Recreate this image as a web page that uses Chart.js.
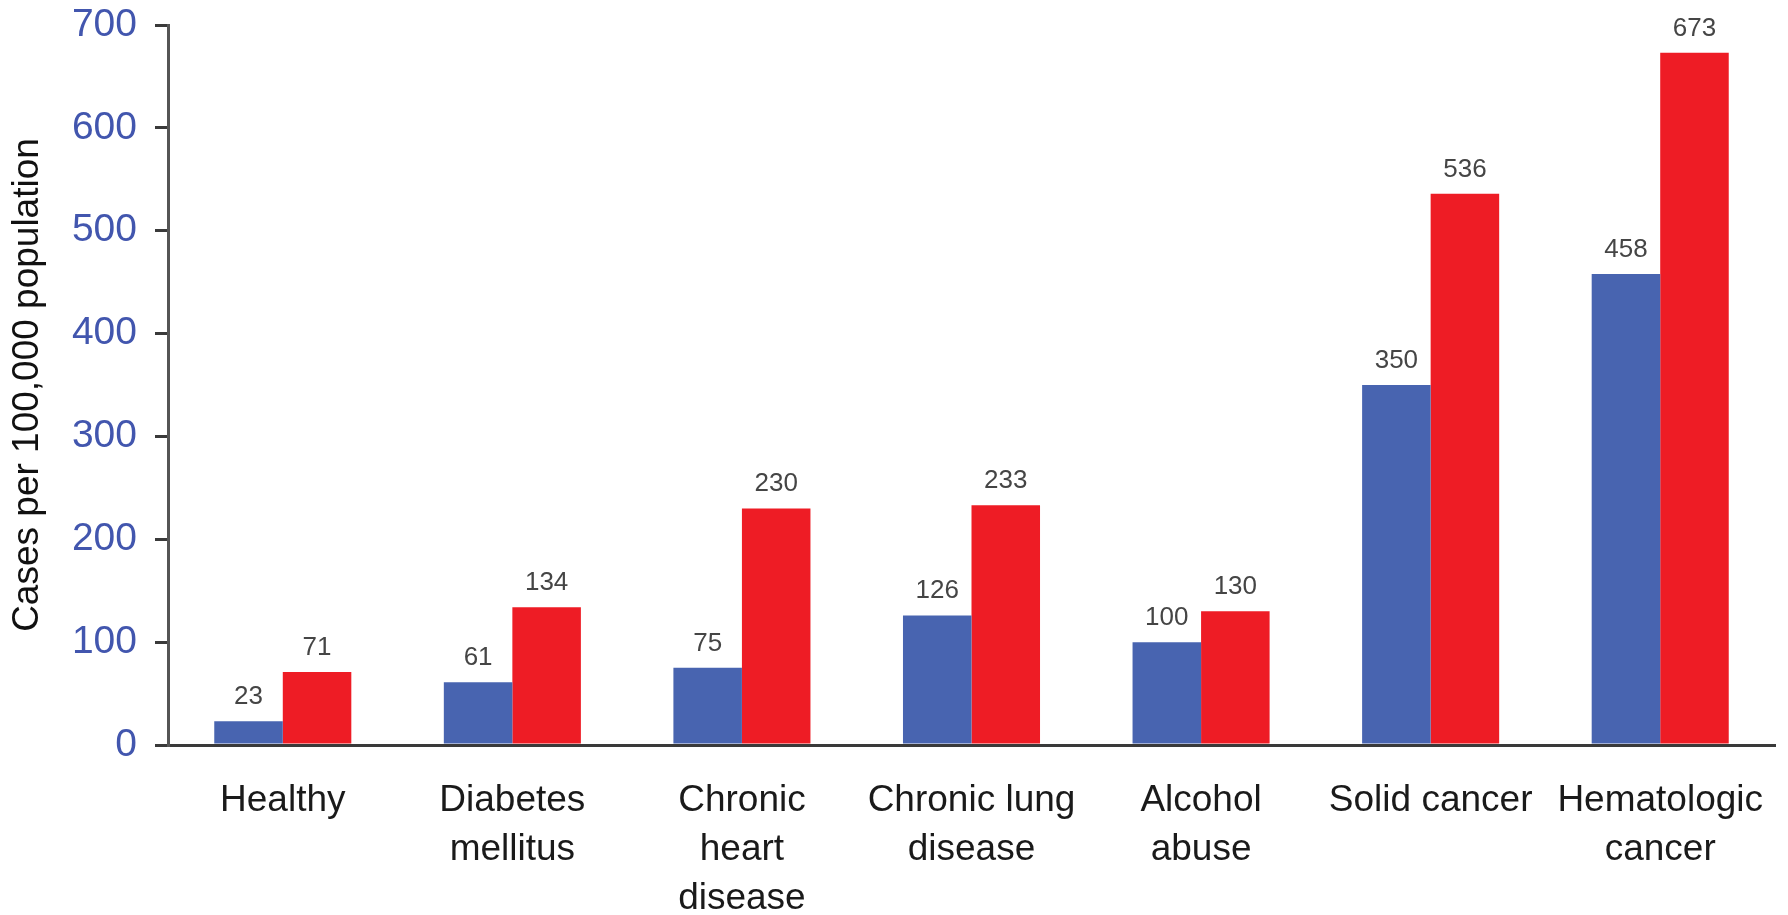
<!DOCTYPE html>
<html>
<head>
<meta charset="utf-8">
<script src="https://cdn.jsdelivr.net/npm/chart.js@4"></script>
<style>
  html, body { margin: 0; padding: 0; background: #ffffff; }
  #wrap { width: 1788px; height: 915px; }
</style>
</head>
<body>
<div id="wrap"><canvas id="chart" width="1788" height="915"></canvas></div>
<script>
// Incidence by underlying condition, cases per 100,000 population
const categories = [
  'Healthy',
  ['Diabetes', 'mellitus'],
  ['Chronic', 'heart', 'disease'],
  ['Chronic lung', 'disease'],
  ['Alcohol', 'abuse'],
  'Solid cancer',
  ['Hematologic', 'cancer']
];
const seriesBlue = [23, 61, 75, 126, 100, 350, 458];
const seriesRed = [71, 134, 230, 233, 130, 536, 673];
const yTicks = [0, 100, 200, 300, 400, 500, 600, 700];
const yTitle = 'Cases per 100,000 population';

const FONT = "'Liberation Sans', Arial, Helvetica, sans-serif";

// Writes each bar's value just above it
const valueLabels = {
  id: 'valueLabels',
  afterDatasetsDraw(chart) {
    const ctx = chart.ctx;
    ctx.save();
    ctx.font = '26px ' + FONT;
    ctx.fillStyle = '#454545';
    ctx.textAlign = 'center';
    ctx.textBaseline = 'alphabetic';
    chart.data.datasets.forEach((ds, di) => {
      const meta = chart.getDatasetMeta(di);
      meta.data.forEach((bar, i) => {
        ctx.fillText(String(ds.data[i]), bar.x, bar.y - 17);
      });
    });
    ctx.restore();
  }
};

new Chart(document.getElementById('chart'), {
  type: 'bar',
  data: {
    labels: categories,
    datasets: [
      { data: seriesBlue, backgroundColor: '#4864b0', borderWidth: 0 },
      { data: seriesRed, backgroundColor: '#ee1c25', borderWidth: 0 }
    ]
  },
  options: {
    responsive: false,
    animation: false,
    devicePixelRatio: 1,
    layout: { padding: { top: 25, right: 13, bottom: 0, left: 0 } },
    datasets: { bar: { categoryPercentage: 0.597, barPercentage: 1.0 } },
    plugins: { legend: { display: false }, tooltip: { enabled: false } },
    scales: {
      x: {
        grid: { display: false, drawTicks: false },
        border: { display: true, color: '#3a3a3a', width: 3 },
        ticks: {
          autoSkip: false, maxRotation: 0, minRotation: 0,
          padding: 31,
          color: '#1a1a1a',
          font: { family: FONT, size: 37, lineHeight: 1.33 }
        },
        afterFit(scale) {
          scale.height = 170;
          scale.paddingLeft = 0;
          scale.paddingRight = 0;
        }
      },
      y: {
        min: 0, max: 700,
        afterBuildTicks(scale) { scale.ticks = yTicks.map(v => ({ value: v })); },
        grid: { drawOnChartArea: false, drawTicks: true, tickLength: 13, color: '#3a3a3a', lineWidth: 3 },
        border: { display: true, color: '#555555', width: 3 },
        ticks: {
          padding: 18,
          color: '#4256ae',
          font: { family: FONT, size: 39 }
        },
        title: {
          display: true,
          text: yTitle,
          color: '#111111',
          font: { family: FONT, size: 37, lineHeight: 1.2 },
          padding: { top: 6, bottom: 0 }
        },
        afterFit(scale) {
          scale.width = 168;
          scale.paddingTop = 0;
          scale.paddingBottom = 0;
        }
      }
    }
  },
  plugins: [valueLabels]
});
</script>
</body>
</html>
